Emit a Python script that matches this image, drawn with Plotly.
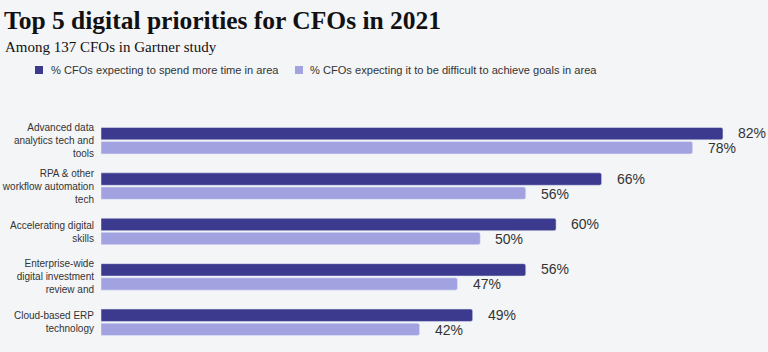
import plotly.graph_objects as go

categories = [
    "Advanced data<br>analytics tech and<br>tools",
    "RPA & other<br>workflow automation<br>tech",
    "Accelerating digital<br>skills",
    "Enterprise-wide<br>digital investment<br>review and",
    "Cloud-based ERP<br>technology",
]
spend_more_time = [82, 66, 60, 56, 49]
difficult_goals = [78, 56, 50, 47, 42]
series_names = [
    "% CFOs expecting to spend more time in area",
    "% CFOs expecting it to be difficult to achieve goals in area",
]
title_text = "Top 5 digital priorities for CFOs in 2021"
subtitle_text = "Among 137 CFOs in Gartner study"

DARK = "#3b3a8e"
LIGHT = "#a3a2e0"
BG = "#f4f5f7"
TXT = "#333333"
colors = [DARK, LIGHT]

W, H = 768, 352
L, R, T, B = 101, 0, 118, 7
pw, ph = W - L - R, H - T - B


def px_x(x):
    return (x - L) / pw


def px_y(y):
    return (H - B - y) / ph


fig = go.Figure()
for name, vals, col in zip(series_names, (spend_more_time, difficult_goals), colors):
    fig.add_trace(go.Bar(y=categories, x=vals, orientation="h", name=name,
                         marker=dict(color=col, cornerradius=2), showlegend=False))

for vals, shift in ((spend_more_time, 7.5), (difficult_goals, -7.5)):
    for c, v in zip(categories, vals):
        fig.add_annotation(x=v, y=c, text=f"{v}%", showarrow=False,
                           xanchor="left", yanchor="middle", xshift=13, yshift=shift,
                           font=dict(family="Liberation Sans, Arial", size=14, color=TXT))

# legend (manual, to match the compact original layout)
legend_pos = [(35, 49), (295, 308)]
for (sx, tx), name, col in zip(legend_pos, series_names, colors):
    fig.add_shape(type="rect", xref="paper", yref="paper",
                  x0=px_x(sx), x1=px_x(sx + 8), y0=px_y(74), y1=px_y(66),
                  fillcolor=col, line=dict(width=0))
    fig.add_annotation(xref="paper", yref="paper", x=px_x(tx), y=px_y(70), text=name,
                       showarrow=False, xanchor="left", yanchor="middle",
                       font=dict(family="Liberation Sans, Arial", size=11.1, color=TXT))

fig.add_annotation(xref="paper", yref="paper", x=px_x(3), y=px_y(47), text=subtitle_text,
                   showarrow=False, xanchor="left", yanchor="middle",
                   font=dict(family="Liberation Serif, Times New Roman, serif", size=15, color="#111111"))

fig.update_layout(
    width=W, height=H,
    margin=dict(l=L, r=R, t=T, b=B),
    paper_bgcolor=BG, plot_bgcolor=BG,
    barmode="group", bargap=0.38, bargroupgap=0.12,
    title=dict(text=f"<b>{title_text}</b>", xref="container", yref="container",
               x=4 / W, xanchor="left", y=1 - 20 / H, yanchor="middle",
               font=dict(family="Liberation Serif, Times New Roman, serif", size=25.5, color="#111111")),
    xaxis=dict(range=[0, pw / 7.585], visible=False, fixedrange=True),
    yaxis=dict(autorange="reversed", showgrid=False, zeroline=False, showline=False,
               ticks="", tickfont=dict(family="Liberation Sans, Arial", size=10, color=TXT),
               ticklabelstandoff=6),
    showlegend=False,
)

fig.write_html("out.html")
